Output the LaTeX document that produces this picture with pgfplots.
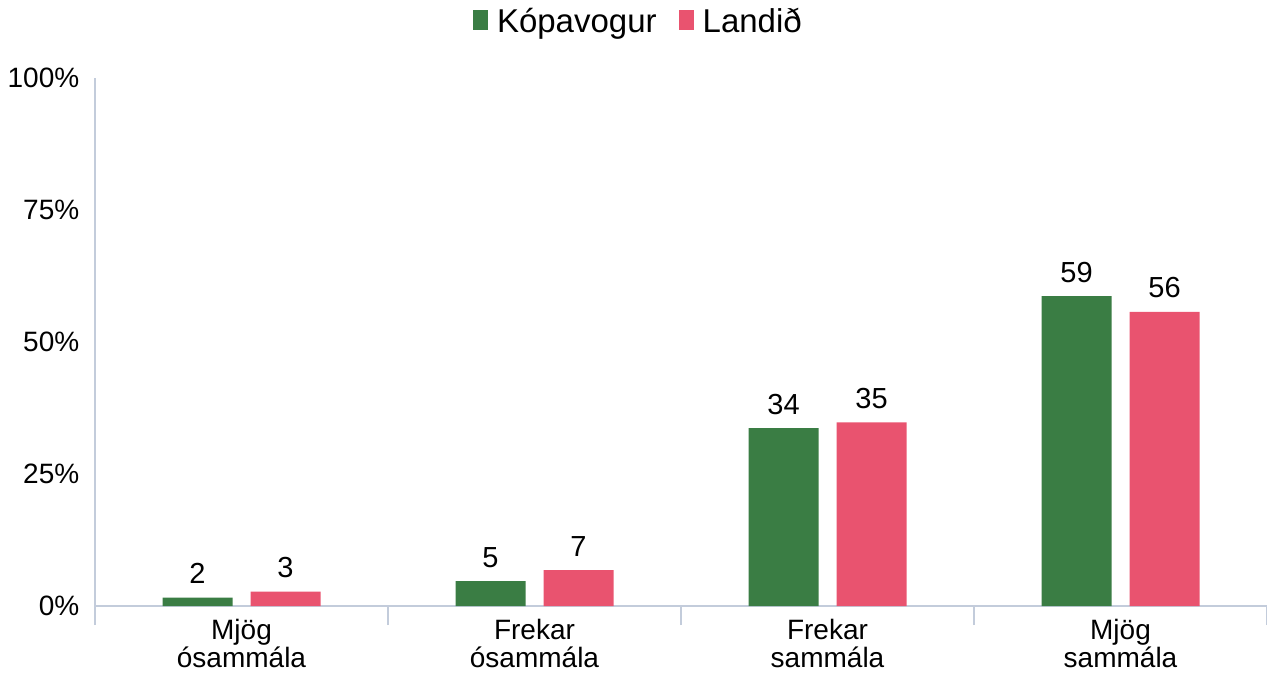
\documentclass[border=0pt]{standalone}
\usepackage{pgfplots}
\pgfplotsset{compat=1.18}
\usepackage{fontspec}
\setmainfont{Liberation Sans}
\definecolor{kgreen}{HTML}{3A7D44}
\definecolor{lpink}{HTML}{E9536F}
\definecolor{axgray}{HTML}{C3CCDB}
\begin{document}
\begin{tikzpicture}
\fontsize{14}{16}\selectfont
\path[use as bounding box] (-47.5pt,-34.5pt) rectangle (586pt,303pt);
\begin{axis}[
  at={(0,0)}, anchor=south west,
  scale only axis, width=586pt, height=264pt,
  ybar=9pt, bar width=35pt,
  xmin=-0.5, xmax=3.5, ymin=0, ymax=100,
  axis x line=bottom, axis y line=left,
  axis line style={draw=axgray, line width=0.8pt, -},
  xtick={0,1,2,3},
  xticklabels={{Mjög\\ósammála},{Frekar\\ósammála},{Frekar\\sammála},{Mjög\\sammála}},
  xticklabel style={align=center, font=\fontsize{14}{14.2}\selectfont, yshift=-1.5pt},
  minor xtick={-0.5,0.5,1.5,2.5,3.5},
  major tick length=0pt,
  minor tick length=9.5pt,
  tick align=outside,
  minor tick style={draw=axgray, line width=0.8pt},
  ytick={0,25,50,75,100},
  yticklabel={\pgfmathprintnumber{\tick}\%},
  yticklabel style={xshift=-3pt},
  /pgf/number format/assume math mode=true,
  ticklabel style={font=\fontsize{14}{16}\selectfont},
  nodes near coords={\pgfplotspointmeta},
  point meta=explicit symbolic,
  nodes near coords style={font=\fontsize{14.5}{16}\selectfont, yshift=2pt},
  legend style={at={(0.4645,1.106)}, anchor=center, draw=none, fill=none,
    legend columns=2, font=\fontsize{16.5}{19}\selectfont,
    /tikz/every even column/.append style={column sep=9pt}},
  legend image code/.code={\fill[#1] (0pt,-4pt) rectangle (7.5pt,6pt); \path (10pt,0pt);},
  clip=false,
]
\addplot[fill=kgreen, draw=none] coordinates {(0,1.6) [2] (1,4.7) [5] (2,33.7) [34] (3,58.7) [59]};
\addplot[fill=lpink, draw=none] coordinates {(0,2.7) [3] (1,6.8) [7] (2,34.8) [35] (3,55.7) [56]};
\legend{Kópavogur, Landið}
\end{axis}
\end{tikzpicture}
\end{document}
